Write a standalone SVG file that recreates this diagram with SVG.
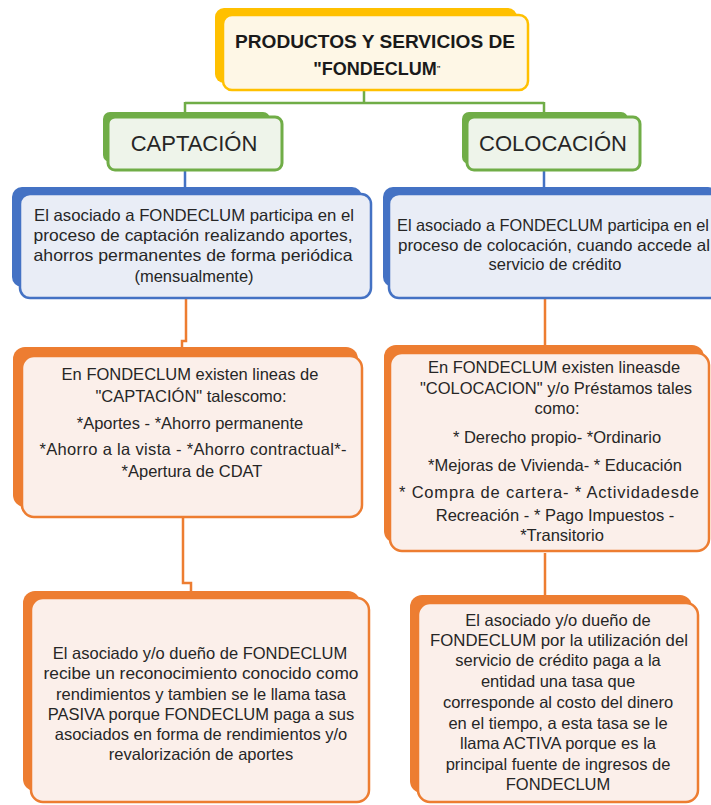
<svg xmlns="http://www.w3.org/2000/svg" width="711" height="805" viewBox="0 0 711 805">
<style>
text{font-family:"Liberation Sans",Arial,sans-serif;fill:#262626;text-anchor:middle}
.b{font-size:16.5px}
.t{font-size:18px;font-weight:bold;fill:#1a1a1a}
.h{font-size:22px}
.conn{fill:none;stroke-width:2.5}
.yb{fill:#ffc000}.yf{fill:#fef7e6;stroke:#ffc000;stroke-width:2.5}
.gb{fill:#70ad47}.gf{fill:#eef4ea;stroke:#70ad47;stroke-width:3}
.bb{fill:#4472c4}.bf{fill:#e9edf6;stroke:#4472c4;stroke-width:2.5}
.ob{fill:#ed7d31}.of{fill:#fbefea;stroke:#ed7d31;stroke-width:2.5}
</style>
<rect width="711" height="805" fill="#ffffff"/>
<g id="connectors">
<path class="conn" stroke="#70ad47" d="M364,90 V103 M185,103 H544 M185,102 V114 M544,102 V114"/>
<path class="conn" stroke="#4472c4" d="M185,170 V190 M544,170 V190"/>
<path class="conn" stroke="#ed7d31" d="M186,298 V341 H182 V348 M545,298 V345 M183,517 V583 H191 V592 M545,553 V596"/>
</g>
<g id="top">
<rect class="yb" x="215" y="8" width="302" height="75" rx="9"/>
<rect class="yf" x="223" y="15" width="305" height="75" rx="9"/>
<text class="t" x="375" y="48" textLength="280" lengthAdjust="spacingAndGlyphs">PRODUCTOS Y SERVICIOS DE</text>
<text class="t" x="377" y="75">"FONDECLUM<tspan font-size="8" dy="-4">"</tspan></text>
</g>
<g id="captacion">
<rect class="gb" x="103" y="112" width="167" height="50" rx="7"/>
<rect class="gf" x="108" y="117" width="174" height="53" rx="7"/>
<text class="h" x="194" y="151">CAPTACIÓN</text>
</g>
<g id="colocacion">
<rect class="gb" x="462" y="112" width="166" height="52" rx="7"/>
<rect class="gf" x="467" y="117" width="173" height="53" rx="7"/>
<text class="h" x="553" y="151">COLOCACIÓN</text>
</g>
<g id="captacion-desc">
<rect class="bb" x="12" y="187" width="350" height="100" rx="10"/>
<rect class="bf" x="20" y="194" width="351" height="104" rx="10"/>
<text class="b" x="194" y="221" textLength="320" lengthAdjust="spacingAndGlyphs">El asociado a FONDECLUM participa en el</text>
<text class="b" x="193" y="241" textLength="319" lengthAdjust="spacingAndGlyphs">proceso de captación realizando aportes,</text>
<text class="b" x="193" y="261" textLength="319" lengthAdjust="spacingAndGlyphs">ahorros permanentes de forma periódica</text>
<text class="b" x="194" y="282">(mensualmente)</text>
</g>
<g id="colocacion-desc">
<rect class="bb" x="383" y="187" width="335" height="100" rx="10"/>
<rect class="bf" x="389" y="194" width="335" height="104" rx="10"/>
<text class="b" x="553" y="231" textLength="312" lengthAdjust="spacingAndGlyphs">El asociado a FONDECLUM participa en el</text>
<text class="b" x="554" y="251" textLength="312" lengthAdjust="spacingAndGlyphs">proceso de colocación, cuando accede al</text>
<text class="b" x="555" y="270">servicio de crédito</text>
</g>
<g id="captacion-lineas">
<rect class="ob" x="13" y="347" width="345" height="160" rx="12"/>
<rect class="of" x="22" y="356" width="340" height="161" rx="12"/>
<text class="b" x="190" y="380">En FONDECLUM  existen lineas de</text>
<text class="b" x="191" y="402">"CAPTACIÓN" talescomo:</text>
<text class="b" x="190" y="429">*Aportes - *Ahorro permanente</text>
<text class="b" x="193" y="455" textLength="307" lengthAdjust="spacing">*Ahorro a la vista - *Ahorro contractual*-</text>
<text class="b" x="192" y="477">*Apertura de CDAT</text>
</g>
<g id="colocacion-lineas">
<rect class="ob" x="384" y="345" width="320" height="198" rx="12"/>
<rect class="of" x="390" y="353" width="319" height="198" rx="12"/>
<text class="b" x="554" y="373">En FONDECLUM existen lineasde</text>
<text class="b" x="556" y="394">"COLOCACION"  y/o Préstamos tales</text>
<text class="b" x="557" y="414">como:</text>
<text class="b" x="557" y="443">* Derecho propio- *Ordinario</text>
<text class="b" x="555" y="471">*Mejoras de Vivienda- * Educación</text>
<text class="b" x="549" y="498" textLength="300" lengthAdjust="spacing">* Compra de cartera- * Actividadesde</text>
<text class="b" x="555" y="521">Recreación - * Pago Impuestos -</text>
<text class="b" x="562" y="541">*Transitorio</text>
</g>
<g id="pasiva">
<rect class="ob" x="23" y="591" width="337" height="200" rx="12"/>
<rect class="of" x="31" y="598" width="338" height="204" rx="12"/>
<text class="b" x="200" y="659">El asociado y/o dueño de  FONDECLUM</text>
<text class="b" x="201" y="679" textLength="315" lengthAdjust="spacingAndGlyphs">recibe un reconocimiento conocido como</text>
<text class="b" x="201" y="700">rendimientos y tambien se le llama  tasa</text>
<text class="b" x="201" y="720">PASIVA porque FONDECLUM paga a sus</text>
<text class="b" x="201" y="740">asociados en forma de rendimientos y/o</text>
<text class="b" x="201" y="760">revalorización de aportes</text>
</g>
<g id="activa">
<rect class="ob" x="410" y="595" width="282" height="198" rx="12"/>
<rect class="of" x="418" y="603" width="280" height="199" rx="12"/>
<text class="b" x="558" y="626">El asociado y/o dueño de</text>
<text class="b" x="559" y="646" textLength="258" lengthAdjust="spacingAndGlyphs">FONDECLUM por la utilización del</text>
<text class="b" x="558" y="666">servicio de crédito paga a  la</text>
<text class="b" x="558" y="687">entidad una tasa que</text>
<text class="b" x="558" y="708">corresponde al costo del dinero</text>
<text class="b" x="558" y="729">en el tiempo, a esta tasa se le</text>
<text class="b" x="558" y="749">llama ACTIVA porque es la</text>
<text class="b" x="558" y="770">principal fuente de ingresos de</text>
<text class="b" x="558" y="790">FONDECLUM</text>
</g>
</svg>
